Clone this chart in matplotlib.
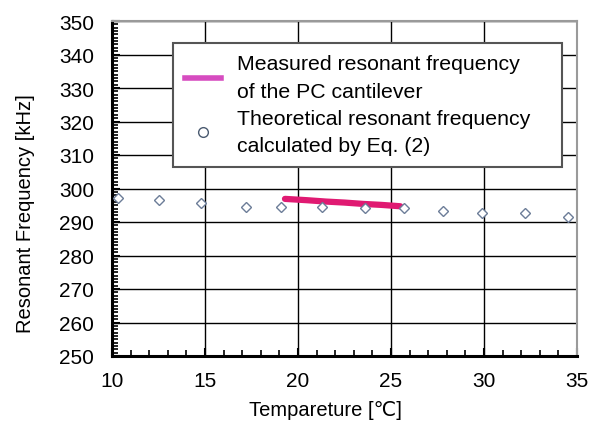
import numpy as np
import matplotlib
matplotlib.use('Agg')
import matplotlib.pyplot as plt
from matplotlib.lines import Line2D
from matplotlib.ticker import MultipleLocator

plt.rcParams['font.family'] = ['Liberation Sans', 'DejaVu Sans']

# theoretical values (diamonds)
theo_temp = [10.3, 12.5, 14.8, 17.2, 19.1, 21.3, 23.6, 25.7, 27.8, 29.9, 32.2, 34.5]
theo_freq = [297.2, 296.6, 295.6, 294.6, 294.6, 294.4, 294.2, 294.1, 293.4, 292.7, 292.6, 291.5]

# measured curve
meas_temp = [19.3, 20.5, 21.5, 22.5, 23.5, 24.5, 25.5]
meas_freq = [296.9, 296.5, 296.1, 295.8, 295.4, 295.1, 294.7]

line_col = '#e01a72'
mark_col = '#6c7d98'

fig = plt.figure(figsize=(5.97, 4.31), dpi=100)
ax = fig.add_axes([112/597, 1 - 357/431, 465/597, 335/431])

ax.plot(meas_temp, meas_freq, color=line_col, lw=4.5, solid_capstyle='round', zorder=3)
ax.plot(theo_temp, theo_freq, ls='none', marker='D', ms=5.5, mfc='white',
        mec=mark_col, mew=1.0, zorder=4)

ax.set_xlim(10, 35)
ax.set_ylim(250, 350)
ax.xaxis.set_major_locator(MultipleLocator(5))
ax.xaxis.set_minor_locator(MultipleLocator(1))
ax.yaxis.set_major_locator(MultipleLocator(10))
ax.yaxis.set_minor_locator(MultipleLocator(1))
ax.grid(True, which='major', color='black', lw=1.0)
ax.set_axisbelow(True)

ax.tick_params(which='both', direction='in', labelsize=15, color='black',
               top=False, right=False)
ax.tick_params(which='major', length=6, width=1.5)
ax.tick_params(which='minor', length=4, width=1.2)
ax.tick_params(axis='y', pad=13)
ax.tick_params(axis='x', pad=11)

for s in ['left', 'bottom']:
    ax.spines[s].set_linewidth(2.2)
    ax.spines[s].set_color('black')
for s in ['top', 'right']:
    ax.spines[s].set_linewidth(1.5)
    ax.spines[s].set_color('#9a9a9a')

ax.set_xlabel('Tempareture [\u2103]', fontsize=14.5)
ax.set_ylabel('Resonant Frequency [kHz]', fontsize=14.5)
ax.xaxis.set_label_coords((325 - 112) / 465, (357 - 401) / 335)
ax.yaxis.set_label_coords((35 - 112) / 465, (357 - 214) / 335)

handles = [
    Line2D([], [], color='#d64cc0', lw=4),
    Line2D([], [], ls='none', marker='o', ms=7, mfc='white', mec='#4a5a70', mew=1.0),
]
labels = ['Measured resonant frequency\nof the PC cantilever',
          'Theoretical resonant frequency\ncalculated by Eq. (2)']
leg = ax.legend(handles, labels, loc='upper left',
                bbox_to_anchor=(0.131, 0.935, 0.837, 0.0), mode='expand',
                fontsize=15.3, frameon=True, fancybox=False, framealpha=1,
                edgecolor='#555555', handlelength=1.7, handletextpad=0.75,
                labelspacing=0.4, borderpad=0.55, borderaxespad=0)
for t in leg.get_texts():
    t.set_linespacing(1.55)
leg.get_frame().set_linewidth(1.5)
leg.set_zorder(5)

fig.savefig('out.png', dpi=100)
